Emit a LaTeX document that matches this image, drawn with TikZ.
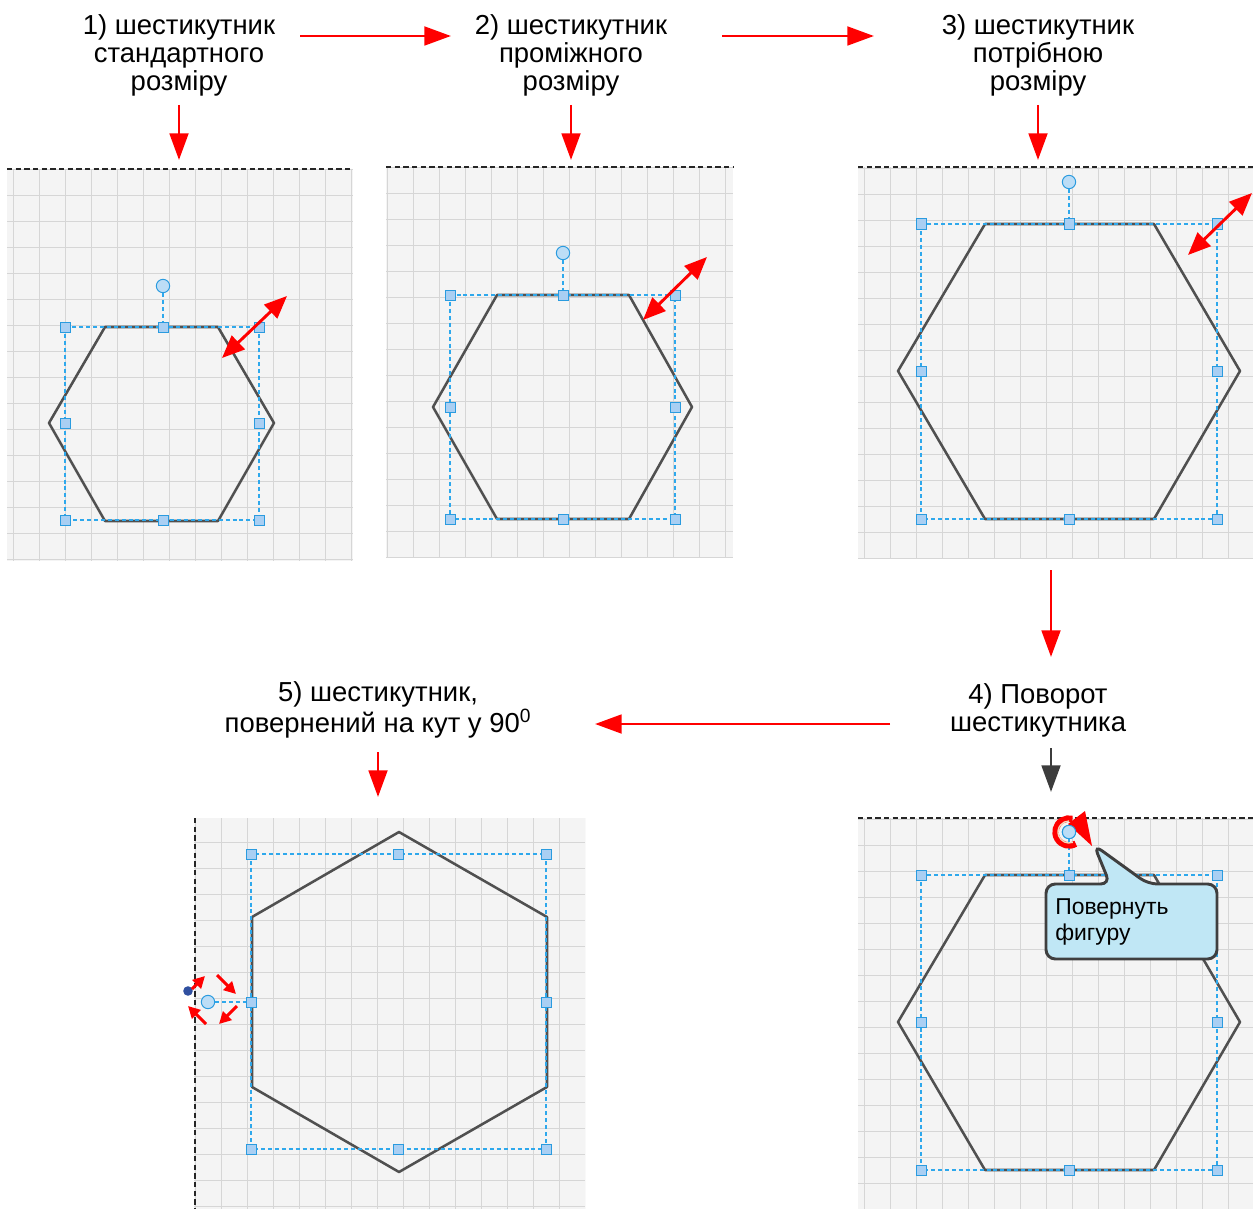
\documentclass[tikz,border=0pt]{standalone}
\usepackage{fontspec}
\setmainfont{Liberation Sans}
\usetikzlibrary{arrows.meta,calc}
\definecolor{gridc}{HTML}{D6D6D6}
\definecolor{bgc}{HTML}{F4F4F4}
\definecolor{hexc}{HTML}{505050}
\definecolor{selc}{HTML}{2EA8EC}
\definecolor{hfill}{HTML}{A9CFF3}
\definecolor{hdraw}{HTML}{2A9BDF}
\definecolor{rfill}{HTML}{BCDDF6}
\definecolor{arrred}{HTML}{FF0000}
\definecolor{grayarr}{HTML}{3C3C3C}
\definecolor{callc}{HTML}{C0E7F5}
\definecolor{calld}{HTML}{3F3F3F}
\definecolor{dotblue}{HTML}{3050A0}
\definecolor{beige}{HTML}{F2DCC0}

\newcommand\gridpanel[6]{%
  \fill[bgc] (#1,#2) rectangle (#3,#4);
  \begin{scope}
    \clip (#1,#2) rectangle (#3,#4);
    \foreach \k in {0,...,17}{
      \draw[gridline] ({#5+26*\k},#2) -- ({#5+26*\k},#4);
      \draw[gridline] (#1,{#6+26*\k}) -- (#3,{#6+26*\k});
    }
  \end{scope}}

% name, xl, xm, xr, yt, ym, yb
\newcommand\selbox[7]{%
  \draw[selline] (#2,#5) rectangle (#4,#7);
  \node[handle] (#1-tl) at (#2,#5) {};
  \node[handle] (#1-tm) at (#3,#5) {};
  \node[handle] (#1-tr) at (#4,#5) {};
  \node[handle] (#1-ml) at (#2,#6) {};
  \node[handle] (#1-mr) at (#4,#6) {};
  \node[handle] (#1-bl) at (#2,#7) {};
  \node[handle] (#1-bm) at (#3,#7) {};
  \node[handle] (#1-br) at (#4,#7) {};}

\begin{document}
\begin{tikzpicture}[x=0.75pt,y=-0.75pt,
  title/.style={align=center,font=\fontsize{20.6}{21}\selectfont,inner sep=0pt},
  gridline/.style={draw=gridc,line width=1.1pt},
  pagedash/.style={draw=black!85,line width=1pt,dash pattern=on 4pt off 2.5pt},
  hexline/.style={draw=hexc,line width=1.9pt,line join=round},
  selline/.style={draw=selc,line width=0.9pt,dash pattern=on 3pt off 2.2pt},
  handle/.style={rectangle,minimum size=7.5pt,inner sep=0pt,fill=hfill,draw=hdraw,line width=0.75pt},
  rothandle/.style={circle,minimum size=10pt,inner sep=0pt,fill=rfill,draw=hdraw,line width=0.75pt},
  flow/.style={draw=arrred,line width=2.2pt,-{Triangle[length=20pt,width=14pt]}},
  flowgray/.style={draw=grayarr,line width=2.2pt,-{Triangle[length=20pt,width=14pt]}},
  resize/.style={draw=arrred,line width=2.2pt,{Triangle[length=17pt,width=14pt]}-{Triangle[length=17pt,width=14pt]}},
  spin/.style={draw=arrred,line width=2.2pt,-{Triangle[length=9pt,width=9pt]}},
]
\useasboundingbox (0,0) rectangle (1253,1209);
\fill[white] (0,0) rectangle (1253,1209);

% ---------- grids ----------
\gridpanel{7}{169}{353}{561}{13.3}{169.6}
\gridpanel{386}{167}{733}{558}{387.3}{167.3}
\gridpanel{858}{167}{1253}{558}{838.3}{168.3}
\gridpanel{858}{818}{1253}{1209}{838.3}{819.3}
\gridpanel{194}{818}{585}{1209}{169.7}{790.3}

\draw[pagedash] (7,169) -- (353,169);
\draw[pagedash] (386,167) -- (733,167);
\draw[pagedash] (858,167) -- (1253,167);
\draw[pagedash] (858,818) -- (1253,818);
\draw[pagedash] (195,818) -- (195,1209);

% ---------- panel 1 ----------
\draw[hexline] (105,327) -- (218,327) -- (274,423) -- (218,521) -- (105,521) -- (49,423) -- cycle;
\selbox{p1}{65}{163}{259}{327}{423}{520}
\node[rothandle] (p1rot) at (163,286) {};
\draw[selline] (p1rot) -- (p1-tm);
\coordinate (r1a) at (222,358);
\coordinate (r1b) at (287,296);
\draw[resize] (r1a) -- (r1b);

% ---------- panel 2 ----------
\draw[hexline] (497,295) -- (629,295) -- (692,407) -- (629,519) -- (497,519) -- (433,407) -- cycle;
\selbox{p2}{450}{563}{675}{295}{407}{519}
\node[rothandle] (p2rot) at (563,253) {};
\draw[selline] (p2rot) -- (p2-tm);
\coordinate (r2a) at (643,320);
\coordinate (r2b) at (707,257);
\draw[resize] (r2a) -- (r2b);

% ---------- panel 3 ----------
\draw[hexline] (985,224) -- (1154,224) -- (1240,371) -- (1154,519) -- (985,519) -- (898,371) -- cycle;
\selbox{p3}{921}{1069}{1217}{224}{371}{519}
\node[rothandle] (p3rot) at (1069,182) {};
\draw[selline] (p3rot) -- (p3-tm);
\coordinate (r3a) at (1188,255);
\coordinate (r3b) at (1252,193);
\draw[resize] (r3a) -- (r3b);

% ---------- panel 4 ----------
\draw[hexline] (985,875) -- (1154,875) -- (1240,1022) -- (1154,1170) -- (985,1170) -- (898,1022) -- cycle;
\selbox{p4}{921}{1069}{1217}{875}{1022}{1170}
\node[rothandle] (p4rot) at (1069,832) {};
\draw[selline] (p4rot) -- (p4-tm);
% rotation symbol
\draw[draw=arrred,line width=4.8pt]
  (p4rot.center) ++(60:13.5) arc[start angle=60,end angle=285,radius=13.5];
\draw[draw=beige,line width=1pt]
  (p4rot.center) ++(70:11) arc[start angle=70,end angle=270,radius=11];
\coordinate (rh1) at (1085,811);
\coordinate (rh2) at (1092,846);
\coordinate (rh3) at (1068,824);
\fill[arrred] (rh1) -- (rh2) -- (rh3) -- cycle;
\node[rothandle] at (p4rot) {};
% callout
\draw[fill=callc,draw=calld,line width=2.2pt,rounded corners=7pt]
  (1046,884) -- (1110,884) -- (1094,845) -- (1148,884) -- (1217,884)
  -- (1217,959) -- (1046,959) -- cycle;
\node[anchor=west,align=left,inner sep=0pt,font=\fontsize{17.2}{20}\selectfont] (call) at (1055,922) {Повернуть\\фигуру};

% ---------- panel 5 ----------
\draw[hexline] (399,832) -- (547,917) -- (547,1087) -- (399,1172) -- (252,1087) -- (252,917) -- cycle;
\selbox{p5}{251}{398}{546}{854}{1002}{1149}
\node[rothandle] (p5rot) at (208,1002) {};
\draw[selline] (p5rot) -- (p5-ml);
\fill[dotblue] (188,991) circle (3.6pt);
\coordinate (s1a) at (192,989); \coordinate (s1b) at (205,976);
\coordinate (s2a) at (217,975); \coordinate (s2b) at (236,994);
\coordinate (s3a) at (237,1006); \coordinate (s3b) at (219,1024);
\coordinate (s4a) at (206,1024); \coordinate (s4b) at (188,1006);
\draw[spin] (s1a) -- (s1b);
\draw[spin] (s2a) -- (s2b);
\draw[spin] (s3a) -- (s3b);
\draw[spin] (s4a) -- (s4b);

% ---------- titles ----------
\node[title] (t1) at (179,55) {1) шестикутник\\стандартного\\розміру};
\node[title] (t2) at (571,55) {2) шестикутник\\проміжного\\розміру};
\node[title] (t3) at (1038,55) {3) шестикутник\\потрібною\\розміру};
\node[title] (t4) at (1038,710) {4) Поворот\\шестикутника};
\node[title] (t5) at (378,710) {5) шестикутник,\\повернений на кут у 90\textsuperscript{0}};

% ---------- flow arrows ----------
\coordinate (f12a) at (300,36); \coordinate (f12b) at (451,36);
\coordinate (f23a) at (722,36); \coordinate (f23b) at (874,36);
\draw[flow] (f12a) -- (f12b);
\draw[flow] (f23a) -- (f23b);
\coordinate (d1a) at (179,105); \coordinate (d1b) at (179,160);
\coordinate (d2a) at (571,105); \coordinate (d2b) at (571,160);
\coordinate (d3a) at (1038,105); \coordinate (d3b) at (1038,160);
\draw[flow] (d1a) -- (d1b);
\draw[flow] (d2a) -- (d2b);
\draw[flow] (d3a) -- (d3b);
\coordinate (d34a) at (1051,570); \coordinate (d34b) at (1051,657);
\draw[flow] (d34a) -- (d34b);
\coordinate (f45a) at (890,724); \coordinate (f45b) at (595,724);
\draw[flow] (f45a) -- (f45b);
\coordinate (d5a) at (378,752); \coordinate (d5b) at (378,797);
\draw[flow] (d5a) -- (d5b);
\coordinate (d4a) at (1051,748); \coordinate (d4b) at (1051,792);
\draw[flowgray] (d4a) -- (d4b);
\end{tikzpicture}
\end{document}
